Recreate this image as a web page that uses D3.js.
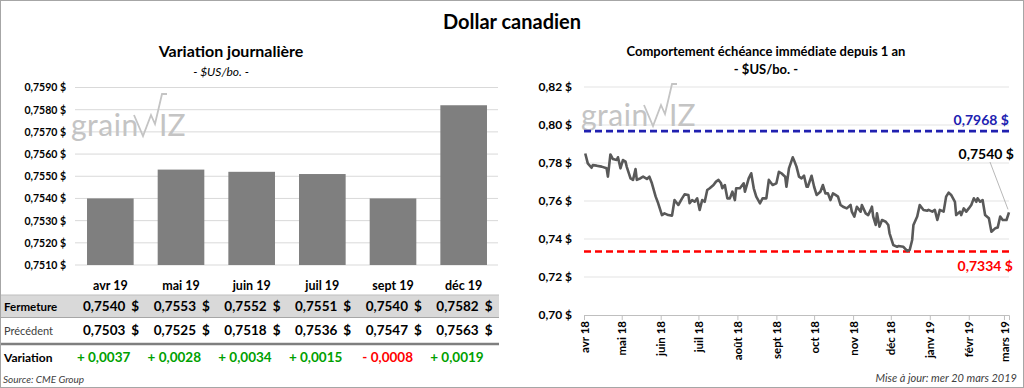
<!DOCTYPE html>
<html>
<head>
<meta charset="utf-8">
<script src="https://cdn.jsdelivr.net/npm/d3@7"></script>
<style>
	body { margin: 0; background: #fff; }
	svg { display: block; font-family: Lato, 'Open Sans', sans-serif; }
</style>
</head>
<body>
<script>
'use strict'

// contrats (variation journalière)
const contracts = ['avr 19', 'mai 19', 'juin 19', 'juil 19', 'sept 19', 'déc 19'];
const closing = [0.7540, 0.7553, 0.7552, 0.7551, 0.7540, 0.7582];
const previous = [0.7503, 0.7525, 0.7518, 0.7536, 0.7547, 0.7563];
const variation = [0.0037, 0.0028, 0.0034, 0.0015, -0.0008, 0.0019];
const leftTicks = [0.7510, 0.7520, 0.7530, 0.7540, 0.7550, 0.7560, 0.7570, 0.7580, 0.7590];

// échéance immédiate, 1 an
const rightTicks = [0.70, 0.72, 0.74, 0.76, 0.78, 0.80, 0.82];
const yearHigh = 0.7968;
const yearLow = 0.7334;
const lastClose = 0.7540;
const frontMonth = [
	['2018-04-02', 0.7850], ['2018-04-04', 0.7798], ['2018-04-07', 0.7775], ['2018-04-08', 0.7789],
	['2018-04-11', 0.7786], ['2018-04-15', 0.7781], ['2018-04-19', 0.7772], ['2018-04-20', 0.7728],
	['2018-04-22', 0.7845], ['2018-04-24', 0.7821], ['2018-04-27', 0.7816], ['2018-04-28', 0.7830],
	['2018-04-30', 0.7772], ['2018-05-02', 0.7816], ['2018-05-04', 0.7807], ['2018-05-05', 0.7780],
	['2018-05-08', 0.7719], ['2018-05-10', 0.7711], ['2018-05-12', 0.7768], ['2018-05-13', 0.7711],
	['2018-05-16', 0.7720], ['2018-05-18', 0.7728], ['2018-05-21', 0.7716], ['2018-05-23', 0.7728],
	['2018-05-25', 0.7693], ['2018-05-28', 0.7623], ['2018-05-30', 0.7588], ['2018-06-02', 0.7526],
	['2018-06-04', 0.7535], ['2018-06-07', 0.7526], ['2018-06-10', 0.7523], ['2018-06-12', 0.7605],
	['2018-06-15', 0.7579], ['2018-06-18', 0.7614], ['2018-06-20', 0.7635], ['2018-06-23', 0.7632],
	['2018-06-24', 0.7588], ['2018-06-26', 0.7605], ['2018-06-28', 0.7596], ['2018-06-30', 0.7614],
	['2018-07-02', 0.7553], ['2018-07-04', 0.7605], ['2018-07-06', 0.7596], ['2018-07-08', 0.7658],
	['2018-07-10', 0.7667], ['2018-07-13', 0.7684], ['2018-07-15', 0.7702], ['2018-07-17', 0.7711],
	['2018-07-19', 0.7693], ['2018-07-20', 0.7667], ['2018-07-22', 0.7684], ['2018-07-24', 0.7614],
	['2018-07-26', 0.7614], ['2018-07-28', 0.7649], ['2018-07-30', 0.7605], ['2018-07-31', 0.7667],
	['2018-08-03', 0.7667], ['2018-08-06', 0.7693], ['2018-08-07', 0.7649], ['2018-08-10', 0.7719],
	['2018-08-12', 0.7746], ['2018-08-14', 0.7667], ['2018-08-16', 0.7623], ['2018-08-19', 0.7588],
	['2018-08-21', 0.7614], ['2018-08-24', 0.7614], ['2018-08-26', 0.7711], ['2018-08-29', 0.7684],
	['2018-09-01', 0.7693], ['2018-09-03', 0.7754], ['2018-09-05', 0.7746], ['2018-09-08', 0.7728],
	['2018-09-09', 0.7675], ['2018-09-11', 0.7772], ['2018-09-14', 0.7830], ['2018-09-15', 0.7815],
	['2018-09-17', 0.7781], ['2018-09-19', 0.7728], ['2018-09-21', 0.7719], ['2018-09-23', 0.7733],
	['2018-09-25', 0.7675], ['2018-09-26', 0.7675], ['2018-09-29', 0.7733], ['2018-10-01', 0.7675],
	['2018-10-03', 0.7632], ['2018-10-06', 0.7649], ['2018-10-08', 0.7684], ['2018-10-10', 0.7640],
	['2018-10-12', 0.7640], ['2018-10-14', 0.7605], ['2018-10-16', 0.7640], ['2018-10-18', 0.7632],
	['2018-10-20', 0.7623], ['2018-10-22', 0.7579], ['2018-10-24', 0.7570], ['2018-10-27', 0.7561],
	['2018-10-30', 0.7579], ['2018-10-31', 0.7544], ['2018-11-02', 0.7518], ['2018-11-04', 0.7570],
	['2018-11-07', 0.7544], ['2018-11-08', 0.7579], ['2018-11-11', 0.7535], ['2018-11-13', 0.7526],
	['2018-11-15', 0.7553], ['2018-11-16', 0.7570], ['2018-11-17', 0.7518], ['2018-11-19', 0.7474],
	['2018-11-20', 0.7535], ['2018-11-22', 0.7465], ['2018-11-24', 0.7500], ['2018-11-27', 0.7491],
	['2018-11-29', 0.7474], ['2018-11-30', 0.7430], ['2018-12-03', 0.7368], ['2018-12-06', 0.7359],
	['2018-12-07', 0.7363], ['2018-12-11', 0.7359], ['2018-12-14', 0.7337], ['2018-12-16', 0.7342],
	['2018-12-18', 0.7395], ['2018-12-19', 0.7474], ['2018-12-22', 0.7518], ['2018-12-24', 0.7579],
	['2018-12-27', 0.7553], ['2018-12-30', 0.7549], ['2018-12-31', 0.7553], ['2019-01-03', 0.7544],
	['2019-01-05', 0.7553], ['2019-01-07', 0.7500], ['2019-01-09', 0.7553], ['2019-01-12', 0.7544],
	['2019-01-14', 0.7623], ['2019-01-16', 0.7644], ['2019-01-18', 0.7632], ['2019-01-21', 0.7596],
	['2019-01-22', 0.7526], ['2019-01-25', 0.7544], ['2019-01-26', 0.7526], ['2019-01-28', 0.7561],
	['2019-01-30', 0.7544], ['2019-02-01', 0.7561], ['2019-02-03', 0.7579], ['2019-02-05', 0.7614],
	['2019-02-07', 0.7596], ['2019-02-08', 0.7614], ['2019-02-10', 0.7596], ['2019-02-12', 0.7605],
	['2019-02-14', 0.7526], ['2019-02-17', 0.7509], ['2019-02-19', 0.7438], ['2019-02-22', 0.7456],
	['2019-02-24', 0.7460], ['2019-02-26', 0.7518], ['2019-02-28', 0.7500], ['2019-03-03', 0.7500],
	['2019-03-05', 0.7540]
];

;(() => {
	const W = 1024, H = 388;
	const fr = d3.formatLocale({ decimal: ',', thousands: '\u00a0', grouping: [3], currency: ['', '$'] });
	const f4 = fr.format('.4f');
	const f2 = fr.format('.2f');
	const frTime = d3.timeFormatLocale({
		dateTime: '%A %e %B %Y à %X', date: '%d/%m/%Y', time: '%H:%M:%S', periods: ['AM', 'PM'],
		days: ['dimanche', 'lundi', 'mardi', 'mercredi', 'jeudi', 'vendredi', 'samedi'],
		shortDays: ['dim.', 'lun.', 'mar.', 'mer.', 'jeu.', 'ven.', 'sam.'],
		months: ['janvier', 'février', 'mars', 'avril', 'mai', 'juin', 'juillet', 'août', 'septembre', 'octobre', 'novembre', 'décembre'],
		shortMonths: ['janv', 'févr', 'mars', 'avr', 'mai', 'juin', 'juil', 'août', 'sept', 'oct', 'nov', 'déc']
	});
	const parse = d3.timeParse('%Y-%m-%d');

	const svg = d3.select('body').append('svg')
		.attr('width', W)
		.attr('height', H);

	svg.append('rect')
		.attr('x', 0.5).attr('y', 0.5)
		.attr('width', W - 1).attr('height', H - 1)
		.attr('fill', '#fff')
		.attr('stroke', '#a6a6a6');

	svg.append('text')
		.attr('x', 512).attr('y', 29)
		.attr('text-anchor', 'middle')
		.style('font-size', '20px').style('font-weight', 700)
		.text('Dollar canadien');

	// watermark "grainWiz"
	function watermark(x, y) {
		let g = svg.append('g').attr('transform', `translate(${x},${y})`)
			.attr('fill', '#c4c4c4').attr('stroke', '#c4c4c4');
		g.append('text').attr('stroke', 'none')
			.style('font-size', '30px').style('font-weight', 400)
			.attr('letter-spacing', 0.5)
			.text('grain');
		g.append('path')
			.attr('fill', 'none').attr('stroke-width', 1.8)
			.attr('d', 'M63,-21 L72,0 L80,-21 L84,-12 L91,-42 L96,-42');
		g.append('text').attr('stroke', 'none')
			.attr('x', 88)
			.style('font-size', '30px').style('font-weight', 400)
			.text('IZ');
	}

	// ---- panneau gauche ----
	svg.append('text')
		.attr('x', 231).attr('y', 57)
		.attr('text-anchor', 'middle')
		.style('font-size', '16px').style('font-weight', 700)
		.text('Variation journalière');
	svg.append('text')
		.attr('x', 221).attr('y', 76)
		.attr('text-anchor', 'middle')
		.style('font-size', '12px').style('font-style', 'italic')
		.text('- $US/bo. -');

	const xL = d3.scaleBand().domain(contracts).range([75, 499]).paddingInner(0.34).paddingOuter(0.17);
	const yL = d3.scaleLinear().domain([0.7510, 0.7590]).range([265, 87.5]);

	svg.append('g').selectAll('line')
		.data(leftTicks)
		.enter().append('line')
		.attr('x1', 75).attr('x2', 498)
		.attr('y1', d => yL(d)).attr('y2', d => yL(d))
		.attr('stroke', '#d9d9d9');

	watermark(71, 136);

	svg.append('g')
		.attr('transform', 'translate(75,0)')
		.call(d3.axisLeft(yL).tickValues(leftTicks).tickSize(0).tickPadding(9).tickFormat(d => f4(d) + ' $'))
		.call(g => g.select('.domain').remove())
		.selectAll('text')
		.style('font-family', 'Lato, sans-serif')
		.style('font-size', '10.5px').style('font-weight', 700).attr('fill', '#000');

	svg.append('g').selectAll('rect')
		.data(closing)
		.enter().append('rect')
		.attr('x', (d, i) => xL(contracts[i]))
		.attr('width', xL.bandwidth())
		.attr('y', d => yL(d))
		.attr('height', d => yL(0.7510) - yL(d))
		.attr('fill', '#7f7f7f');

	svg.append('g')
		.attr('transform', 'translate(0,265)')
		.call(d3.axisBottom(xL).tickSize(0).tickPadding(0))
		.call(g => g.select('.domain').remove())
		.selectAll('text')
		.attr('y', 16)
		.style('font-family', 'Lato, sans-serif')
		.style('font-size', '12.5px').style('font-weight', 700).attr('fill', '#000');

	// tableau
	svg.append('rect')
		.attr('x', 1).attr('y', 295)
		.attr('width', 498).attr('height', 22)
		.attr('fill', '#d9d9d9');
	svg.append('line')
		.attr('x1', 1).attr('x2', 499)
		.attr('y1', 295).attr('y2', 295)
		.attr('stroke', '#bfbfbf');
	svg.append('line')
		.attr('x1', 1).attr('x2', 499)
		.attr('y1', 317.5).attr('y2', 317.5)
		.attr('stroke', '#a6a6a6');
	svg.append('line')
		.attr('x1', 1).attr('x2', 499)
		.attr('y1', 344).attr('y2', 344)
		.attr('stroke', '#7f7f7f').attr('stroke-width', 2.5);

	const rows = [
		{ label: 'Fermeture', y: 311, values: closing, bold: true },
		{ label: 'Précédent', y: 335, values: previous, bold: false }
	];
	rows.forEach(r => {
		svg.append('text')
			.attr('x', 4).attr('y', r.y)
			.style('font-size', r.bold ? '11.5px' : '11px')
			.style('font-weight', r.bold ? 700 : 400)
			.attr('fill', r.bold ? '#000' : '#404040')
			.text(r.label);
		let g = svg.append('g').selectAll('g')
			.data(r.values)
			.enter().append('g')
			.attr('transform', (d, i) => `translate(${xL(contracts[i]) + xL.bandwidth() / 2},${r.y})`)
			.style('font-size', '13.5px').style('font-weight', 700);
		g.append('text').attr('x', 15).attr('text-anchor', 'end').text(d => f4(d));
		g.append('text').attr('x', 21).text('$');
	});

	svg.append('text')
		.attr('x', 4).attr('y', 362)
		.style('font-size', '12px').style('font-weight', 700)
		.text('Variation');
	svg.append('g').selectAll('text')
		.data(variation)
		.enter().append('text')
		.attr('x', (d, i) => xL(contracts[i]) + xL.bandwidth() / 2 + 20)
		.attr('y', 362)
		.attr('text-anchor', 'end')
		.style('font-size', '13.5px').style('font-weight', 700)
		.attr('fill', d => d < 0 ? '#ff0000' : '#00a000')
		.text(d => (d < 0 ? '- ' : '+ ') + f4(Math.abs(d)));

	svg.append('text')
		.attr('x', 3).attr('y', 383)
		.style('font-size', '10px').style('font-style', 'italic')
		.attr('fill', '#404040')
		.text('Source: CME Group');

	// ---- panneau droit ----
	svg.append('text')
		.attr('x', 766).attr('y', 56)
		.attr('text-anchor', 'middle')
		.style('font-size', '13px').style('font-weight', 700)
		.text('Comportement échéance immédiate depuis 1 an');
	svg.append('text')
		.attr('x', 766).attr('y', 74)
		.attr('text-anchor', 'middle')
		.style('font-size', '13px').style('font-weight', 700)
		.text('- $US/bo. -');

	const series = frontMonth.map(d => ({ date: parse(d[0]), value: d[1] }));
	const xR = d3.scaleTime().domain([new Date(2018, 3, 1), new Date(2019, 2, 5)]).range([584, 1009]);
	const yR = d3.scaleLinear().domain([0.70, 0.82]).range([315, 87]);

	svg.append('g').selectAll('line')
		.data(rightTicks.slice(1))
		.enter().append('line')
		.attr('x1', 584).attr('x2', 1009)
		.attr('y1', d => yR(d)).attr('y2', d => yR(d))
		.attr('stroke', '#e3e3e3');

	watermark(581, 126);

	svg.append('g')
		.attr('transform', 'translate(584,0)')
		.call(d3.axisLeft(yR).tickValues(rightTicks).tickSize(0).tickPadding(12).tickFormat(d => f2(d) + ' $'))
		.call(g => g.select('.domain').remove())
		.selectAll('text')
		.style('font-family', 'Lato, sans-serif')
		.style('font-size', '12px').style('font-weight', 700).attr('fill', '#000');

	svg.append('g')
		.attr('transform', 'translate(0,315)')
		.call(d3.axisBottom(xR).ticks(d3.timeMonth.every(1)).tickSize(5).tickFormat(frTime.format('%b %y')))
		.call(g => g.selectAll('line, .domain').attr('stroke', '#bfbfbf'))
		.selectAll('text')
		.attr('transform', 'rotate(-90)')
		.attr('x', -6).attr('y', 0).attr('dy', '0.35em')
		.attr('text-anchor', 'end')
		.style('font-family', 'Lato, sans-serif')
		.style('font-size', '11.5px').style('font-weight', 700).attr('fill', '#000');

	// max / min sur 1 an
	[{ v: yearHigh, c: '#2020b0', dy: -6 }, { v: yearLow, c: '#ff0000', dy: 19 }].forEach(o => {
		svg.append('line')
			.attr('x1', 584).attr('x2', 1009)
			.attr('y1', yR(o.v)).attr('y2', yR(o.v))
			.attr('stroke', o.c).attr('stroke-width', 2.6)
			.attr('stroke-dasharray', '7,4');
		svg.append('text')
			.attr('x', o.dy < 0 ? 1009 : 1013).attr('y', yR(o.v) + o.dy)
			.attr('text-anchor', 'end')
			.style('font-size', '14px').style('font-weight', 700)
			.attr('fill', o.c)
			.text(f4(o.v) + '  $');
	});

	svg.append('path')
		.datum(series)
		.attr('fill', 'none')
		.attr('stroke', '#595959')
		.attr('stroke-width', 2.6)
		.attr('stroke-linejoin', 'round')
		.attr('d', d3.line().x(d => xR(d.date)).y(d => yR(d.value)));

	const last = series[series.length - 1];
	svg.append('line')
		.attr('x1', 990).attr('y1', 162)
		.attr('x2', xR(last.date) - 1).attr('y2', yR(lastClose) - 3)
		.attr('stroke', '#a6a6a6').attr('stroke-width', 0.8);
	svg.append('text')
		.attr('x', 1014).attr('y', 159)
		.attr('text-anchor', 'end')
		.style('font-size', '14px').style('font-weight', 700)
		.text(f4(lastClose) + ' $');

	svg.append('text')
		.attr('x', 1017).attr('y', 382)
		.attr('text-anchor', 'end')
		.style('font-size', '11px').style('font-style', 'italic')
		.attr('fill', '#404040')
		.text('Mise à jour: mer 20 mars 2019');
})();
</script>
</body>
</html>
